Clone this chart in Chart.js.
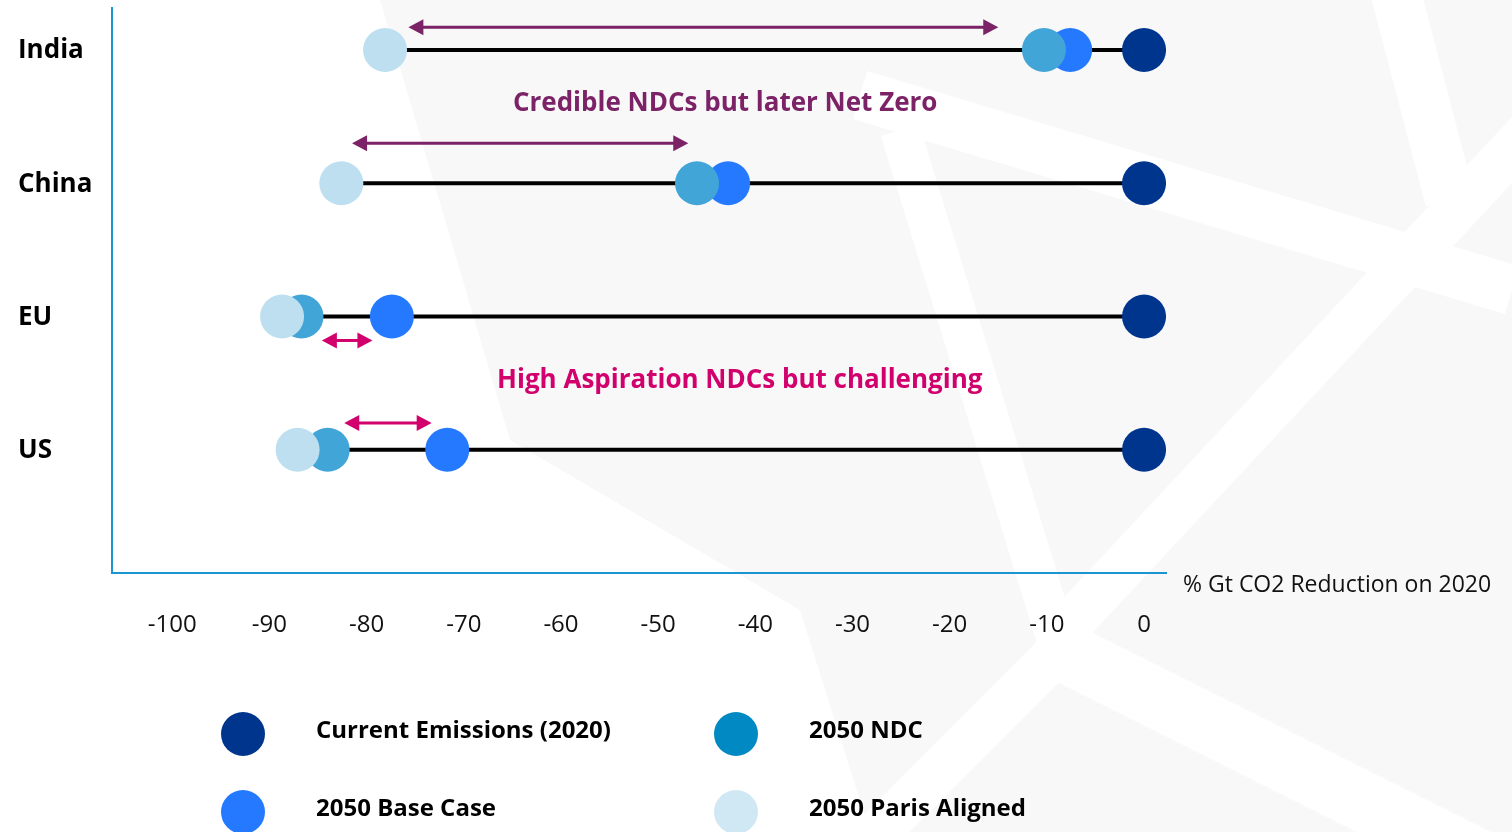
<!DOCTYPE html>
<html>
<head>
<meta charset="utf-8">
<script src="https://cdn.jsdelivr.net/npm/chart.js@4.4.1/dist/chart.umd.min.js"></script>
<style>
  html, body { margin: 0; padding: 0; background: #fff; }
  #wrap { position: relative; width: 1512px; height: 832px; }
</style>
</head>
<body>
<div id="wrap"><canvas id="chart"></canvas></div>
<script>
// ==========================================
// 1. DATA (% change in Gt CO2 vs 2020)
// ==========================================
const countries = ['India', 'China', 'EU', 'US'];
const current2020 = [0, 0, 0, 0];
const base2050 = [-7.6, -42.8, -77.4, -71.7];
const ndc2050 = [-10.3, -46.0, -86.7, -84.0];
const paris2050 = [-78.1, -82.6, -88.7, -87.1];
const xTicks = [-100, -90, -80, -70, -60, -50, -40, -30, -20, -10, 0];

const seriesNames = ['Current Emissions (2020)', '2050 NDC', '2050 Base Case', '2050 Paris Aligned'];

// gap arrows: [from, to] in % and which row they sit by
const arrowFrom = [-75.7, -81.5, -84.6, -82.3];
const arrowTo = [-15.0, -46.9, -79.4, -73.3];
const arrowRow = [4.17, 3.3, 1.82, 1.2];

const noteTexts = ['Credible NDCs but later Net Zero', 'High Aspiration NDCs but challenging'];
const noteX = [-43.1, -41.6];
const noteRow = [3.62, 1.54];

// ==========================================
// 2. STYLES
// ==========================================
const FONT = "'Open Sans', 'Noto Sans', sans-serif";
const colCurrent = '#00358e';
const colBase = '#2479ff';
const colNdc = '#42a5d7';
const colParis = '#bddff0';
const legendColors = ['#00358e', '#0089c2', '#2479ff', '#d0e7f4'];
const purple = '#7c2267';
const magenta = '#d2006c';
const arrowColors = [purple, purple, magenta, magenta];
const noteColors = [purple, magenta];
const axisBlue = '#1995d2';

// row number for each country, top one highest
const rowOf = i => countries.length - i;

// ==========================================
// 3. DATASETS
// ==========================================
const datasets = [];

// black connecting line for each country
countries.forEach((c, i) => {
    const lo = Math.min(base2050[i], ndc2050[i], paris2050[i]);
    datasets.push({
        type: 'line',
        label: c,
        data: [{ x: lo, y: rowOf(i) }, { x: current2020[i], y: rowOf(i) }],
        borderColor: '#000',
        borderWidth: 4,
        pointRadius: 0,
        order: 10
    });
});

function dots(values, color, order) {
    return {
        type: 'scatter',
        data: values.map((v, i) => ({ x: v, y: rowOf(i) })),
        backgroundColor: color,
        borderWidth: 0,
        pointRadius: 22,
        pointHoverRadius: 22,
        order: order
    };
}
datasets.push(dots(paris2050, colParis, 1));
datasets.push(dots(ndc2050, colNdc, 2));
datasets.push(dots(base2050, colBase, 3));
datasets.push(dots(current2020, colCurrent, 4));

// ==========================================
// 4. PLUGINS (background, labels, arrows, notes, legend)
// ==========================================
const backdrop = {
    id: 'backdrop',
    beforeDraw(chart) {
        const ctx = chart.ctx;
        ctx.save();
        ctx.fillStyle = '#fff';
        ctx.fillRect(0, 0, chart.width, chart.height);
        // faint watermark shapes
        ctx.fillStyle = '#f8f8f9';
        ctx.beginPath();
        ctx.moveTo(380, 0); ctx.lineTo(1512, 0); ctx.lineTo(1512, 832);
        ctx.lineTo(870, 832); ctx.lineTo(800, 610); ctx.lineTo(510, 440);
        ctx.closePath();
        ctx.fill();
        ctx.strokeStyle = '#fff';
        ctx.lineCap = 'butt';
        const bands = [
            [860, 95, 1512, 290, 50],
            [1540, 120, 1055, 640, 45],
            [900, 130, 1060, 650, 40],
            [1395, -10, 1450, 200, 50],
            [1060, 650, 860, 850, 45],
            [1060, 650, 1540, 890, 60]
        ];
        bands.forEach(b => {
            ctx.lineWidth = b[4];
            ctx.beginPath();
            ctx.moveTo(b[0], b[1]);
            ctx.lineTo(b[2], b[3]);
            ctx.stroke();
        });
        ctx.restore();
    }
};

function drawArrow(ctx, x1, x2, y, color) {
    const head = 15, half = 8;
    ctx.strokeStyle = color;
    ctx.fillStyle = color;
    ctx.lineWidth = 3;
    ctx.beginPath();
    ctx.moveTo(x1 + head - 2, y);
    ctx.lineTo(x2 - head + 2, y);
    ctx.stroke();
    ctx.beginPath();
    ctx.moveTo(x1, y); ctx.lineTo(x1 + head, y - half); ctx.lineTo(x1 + head, y + half);
    ctx.closePath(); ctx.fill();
    ctx.beginPath();
    ctx.moveTo(x2, y); ctx.lineTo(x2 - head, y - half); ctx.lineTo(x2 - head, y + half);
    ctx.closePath(); ctx.fill();
}

const extras = {
    id: 'extras',
    afterDraw(chart) {
        const ctx = chart.ctx;
        const xs = chart.scales.x, ys = chart.scales.y;
        ctx.save();
        ctx.textBaseline = 'middle';

        // country names, left aligned in the margin
        ctx.font = 'bold 26px ' + FONT;
        ctx.fillStyle = '#000';
        ctx.textAlign = 'left';
        countries.forEach((c, i) => {
            ctx.fillText(c, 18, ys.getPixelForValue(rowOf(i)) + 1);
        });

        // gap arrows
        arrowFrom.forEach((v, i) => {
            drawArrow(ctx, xs.getPixelForValue(v), xs.getPixelForValue(arrowTo[i]),
                ys.getPixelForValue(arrowRow[i]), arrowColors[i]);
        });

        // notes
        ctx.font = 'bold 26px ' + FONT;
        ctx.textAlign = 'center';
        noteTexts.forEach((t, i) => {
            ctx.fillStyle = noteColors[i];
            ctx.fillText(t, xs.getPixelForValue(noteX[i]), ys.getPixelForValue(noteRow[i]) + 3);
        });

        // axis title at the right end of the x axis
        ctx.font = '23px ' + FONT;
        ctx.fillStyle = '#111';
        ctx.textAlign = 'left';
        ctx.fillText('% Gt CO2 Reduction on 2020', chart.chartArea.right + 17, chart.chartArea.bottom + 12);

        // legend, 2 x 2
        const colX = [243, 736];
        const rowY = [734, 812];
        ctx.font = 'bold 24px ' + FONT;
        seriesNames.forEach((name, i) => {
            const cx = colX[i % 2], cy = rowY[Math.floor(i / 2)];
            ctx.fillStyle = legendColors[i];
            ctx.beginPath();
            ctx.arc(cx, cy, 22, 0, Math.PI * 2);
            ctx.fill();
            ctx.fillStyle = '#000';
            ctx.fillText(name, cx + 73, cy - 3);
        });
        ctx.restore();
    }
};

// ==========================================
// 5. CHART
// ==========================================
const ctx = document.getElementById('chart').getContext('2d');
new Chart(ctx, {
    type: 'line',
    data: { datasets: datasets },
    options: {
        responsive: true,
        maintainAspectRatio: false,
        animation: false,
        events: [],
        layout: { autoPadding: false, padding: { left: 18, top: 8, right: 346, bottom: 0 } },
        plugins: { legend: { display: false }, tooltip: { enabled: false } },
        scales: {
            x: {
                type: 'linear',
                min: -106.2,
                max: 2.26,
                afterBuildTicks: s => { s.ticks = xTicks.map(v => ({ value: v })); },
                afterFit: s => { s.height = 259; },
                grid: { display: false, drawTicks: false },
                border: { display: true, color: axisBlue, width: 2 },
                ticks: {
                    color: '#111',
                    padding: 38,
                    maxRotation: 0,
                    autoSkip: false,
                    font: { family: FONT, size: 24 }
                }
            },
            y: {
                type: 'linear',
                min: 0.075,
                max: 4.315,
                afterFit: s => { s.width = 94; },
                grid: { display: false, drawTicks: false },
                border: { display: true, color: axisBlue, width: 2 },
                ticks: { display: false }
            }
        }
    },
    plugins: [backdrop, extras]
});
</script>
</body>
</html>
